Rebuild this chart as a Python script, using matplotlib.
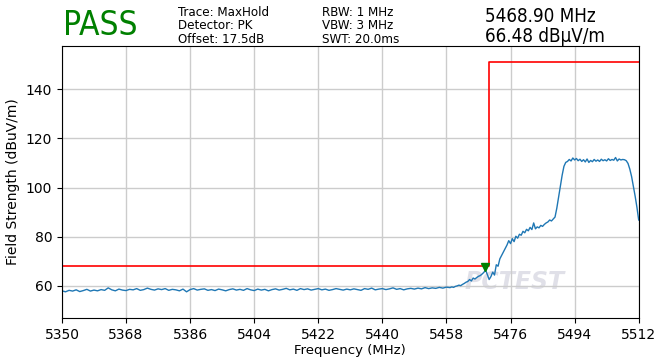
import numpy as np
import matplotlib
matplotlib.use('Agg')
import matplotlib.pyplot as plt

# trace: 1 MHz steps 5350..5459, then 0.5 MHz steps 5459.5..5512
level_lo = [
    58.0, 57.6, 58.2, 57.9, 58.4, 57.7, 58.1, 58.6, 57.9, 58.3,
    58.0, 58.5, 58.2, 59.2, 58.4, 58.0, 58.7, 58.3, 58.1, 58.6,
    58.4, 58.9, 58.2, 58.5, 59.1, 58.6, 58.3, 58.8, 58.5, 58.9,
    58.2, 58.6, 58.4, 58.0, 58.7, 57.6, 58.5, 58.9, 58.3, 58.6,
    58.8, 58.2, 58.5, 58.1, 58.7, 58.4, 58.0, 58.5, 58.8, 58.3,
    58.6, 58.2, 58.9, 58.4, 58.1, 58.7, 58.3, 58.6, 58.0, 58.5,
    58.8, 58.3, 58.6, 59.0, 58.4, 58.7, 58.2, 58.9, 58.5, 58.8,
    58.3, 58.6, 58.9, 58.4, 58.7, 58.2, 58.5, 58.9, 58.6, 58.3,
    58.7, 58.4, 58.8, 58.5, 58.2, 58.9, 58.6, 59.1, 58.4, 58.7,
    58.9, 58.5, 58.8, 59.2, 58.6, 58.9, 58.4, 58.8, 59.0, 58.7,
    59.1, 58.8, 59.3, 58.9, 59.2, 59.0, 59.4, 59.1, 59.5, 59.3,
]
level_hi = [
    59.6, 59.4, 59.8, 60.0, 60.3, 60.1, 60.6, 61.0, 61.5, 61.8,
    62.6, 62.0, 63.2, 62.8, 63.4, 63.9, 64.2, 64.8, 65.5, 66.5,
    64.6, 62.6, 63.8, 65.6, 64.4, 68.6, 68.0, 71.0, 72.4, 73.8,
    75.2, 76.6, 78.4, 77.2, 79.2, 78.0, 80.2, 79.4, 81.0, 80.6,
    82.2, 81.6, 83.0, 82.4, 83.8, 82.9, 85.6, 83.2, 84.0, 83.6,
    84.6, 84.2, 85.0, 85.6, 86.0, 86.8, 86.4, 87.2, 88.0, 91.6,
    96.0, 100.5, 105.0, 108.6, 110.2, 110.6, 111.4, 110.8, 112.0, 111.2,
    111.8, 110.9, 111.5, 110.6, 111.3, 110.4, 111.6, 110.2, 111.0, 110.5,
    111.4, 110.7, 111.2, 110.6, 111.5, 110.9, 111.3, 110.8, 111.7, 111.0,
    111.4, 111.1, 112.2, 110.8, 111.6, 111.2, 111.4, 111.3, 110.9, 109.8,
    107.5, 104.5, 100.5, 96.5, 92.0, 86.8,
]
freq = np.concatenate([np.arange(5350, 5460, 1.0), np.arange(5459.5, 5512.01, 0.5)])
level = np.array(level_lo + level_hi)

limit_f = [5350, 5470, 5470, 5512]
limit_v = [68.2, 68.2, 151, 151]
mark_f, mark_v = 5468.90, 66.48
xticks = [5350, 5368, 5386, 5404, 5422, 5440, 5458, 5476, 5494, 5512]

fig = plt.figure(figsize=(6.66, 3.6), dpi=100)
ax = fig.add_axes([0.093, 0.117, 0.866, 0.755])
ax.plot(freq, level, color='#1f77b4', lw=1.0)
ax.plot(limit_f, limit_v, color='red', lw=1.2)
ax.plot(mark_f, mark_v + 1.2, marker='v', color='green', ms=6, ls='none')

ax.set_xlim(5350, 5512)
ax.set_ylim(47, 157.5)
ax.set_xticks(xticks)
ax.set_yticks([60, 80, 100, 120, 140])
ax.grid(True, color='#cccccc', lw=1)
ax.set_axisbelow(True)
ax.tick_params(labelsize=10)
ax.set_xlabel('Frequency (MHz)', fontsize=9.5, labelpad=2)
ax.set_ylabel('Field Strength (dBuV/m)', fontsize=10)

# faint watermark
ax.text(5477, 61.5, 'PCTEST', fontsize=17, fontweight='bold', style='italic',
        color='#e0e0e8', ha='center', va='center', zorder=0)

cond = dict(fontstretch='condensed')
fig.text(0.095, 0.928, 'PASS', color='green', fontsize=24, va='center', ha='left', **cond)
fig.text(0.267, 0.983, 'Trace: MaxHold\nDetector: PK\nOffset: 17.5dB',
         fontsize=9.5, va='top', ha='left', linespacing=1.02, **cond)
fig.text(0.483, 0.983, 'RBW: 1 MHz\nVBW: 3 MHz\nSWT: 20.0ms',
         fontsize=9.5, va='top', ha='left', linespacing=1.02, **cond)
fig.text(0.728, 0.98, '5468.90 MHz\n66.48 dBµV/m',
         fontsize=13.5, va='top', ha='left', linespacing=1.05, **cond)

fig.savefig('out.png', dpi=100, facecolor='white')
